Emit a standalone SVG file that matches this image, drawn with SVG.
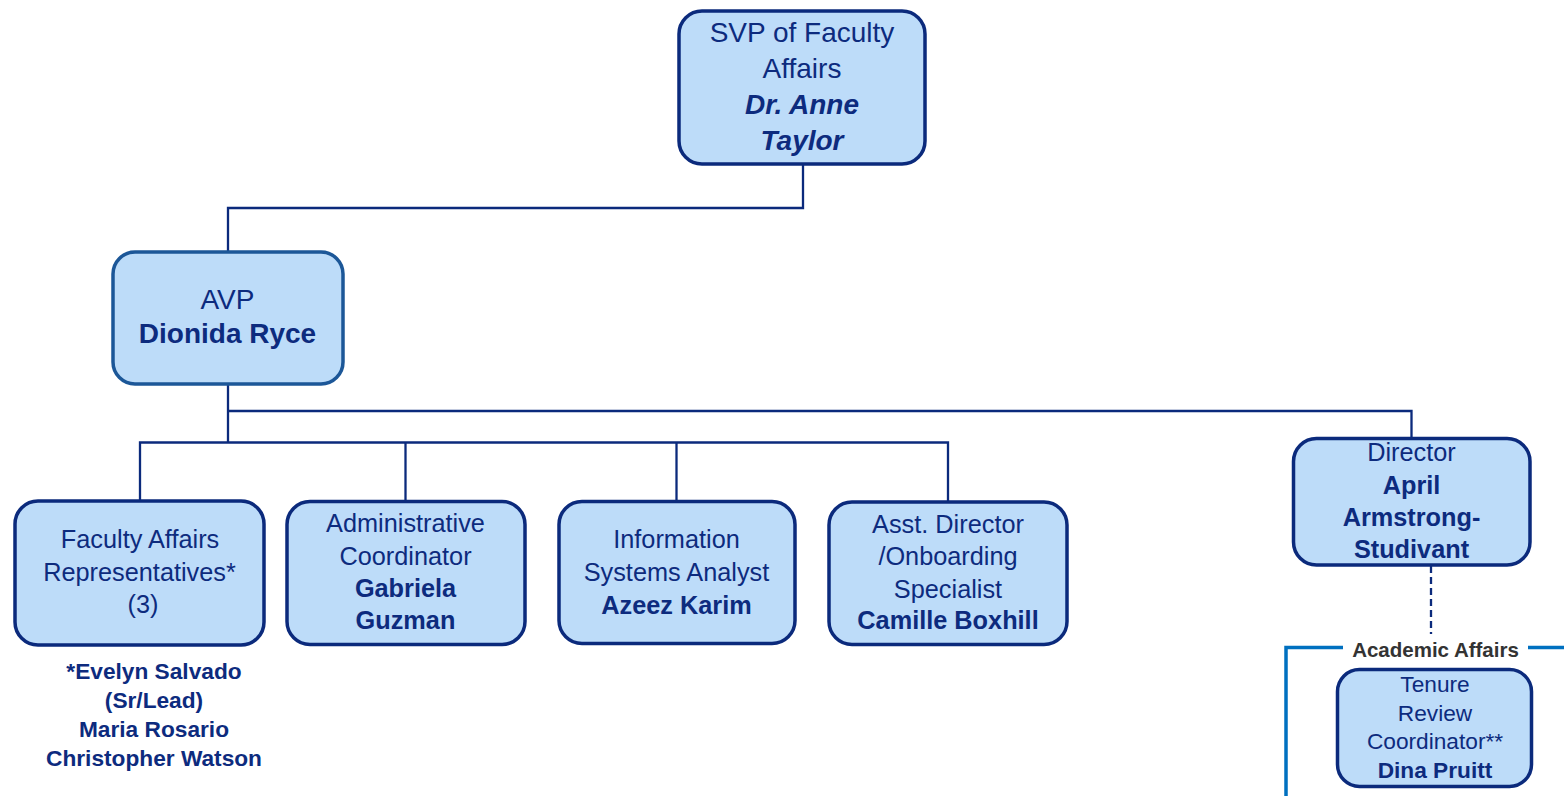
<svg xmlns="http://www.w3.org/2000/svg" width="1564" height="796" viewBox="0 0 1564 796">
<style>
.box{fill:#bddcf9;stroke:#0b2a7c;stroke-width:3.5}
.avp{fill:#bddcf9;stroke:#1c5798;stroke-width:3.5}
.ln{fill:none;stroke:#0b2a7c;stroke-width:2.3}
.dash{fill:none;stroke:#0b2a7c;stroke-width:2.3;stroke-dasharray:7 4}
.grp{fill:none;stroke:#0070c0;stroke-width:3.5}
text{font-family:"Liberation Sans",Arial,sans-serif;fill:#0d2b7e;text-anchor:middle}
.b{font-weight:bold}
.bi{font-weight:bold;font-style:italic}
.f28{font-size:28px}
.f25{font-size:25.3px}
.f23{font-size:22.7px}
.lbl{font-size:20.5px;font-weight:bold;fill:#333333}
</style>
<rect width="1564" height="796" fill="#ffffff"/>
<g id="connectors">
<path class="ln" d="M803,164 V208 H228 V252"/>
<path class="ln" d="M228,384 V442.5"/>
<path class="ln" d="M228,411 H1411.5 V438.5"/>
<path class="ln" d="M140,501 V442.5 H948 V501"/>
<path class="ln" d="M405.5,442.5 V501"/>
<path class="ln" d="M676.5,442.5 V501"/>
<path class="dash" d="M1431,566 V634"/>
</g>
<g id="academic-affairs-group">
<path class="grp" d="M1343,647.5 H1286 V796"/>
<path class="grp" d="M1528,647.5 H1564"/>
<text class="lbl" x="1435.5" y="657">Academic Affairs</text>
</g>
<g id="svp">
<rect class="box" x="679" y="11" width="246" height="153" rx="23"/>
<text class="f28" x="802" y="42">SVP of Faculty</text>
<text class="f28" x="802" y="78">Affairs</text>
<text class="f28 bi" x="802" y="114">Dr. Anne</text>
<text class="f28 bi" x="802" y="150">Taylor</text>
</g>
<g id="avp">
<rect class="avp" x="113" y="252" width="230" height="132" rx="22"/>
<text class="f28" x="227.5" y="309">AVP</text>
<text class="f28 b" x="227.5" y="343">Dionida Ryce</text>
</g>
<g id="faculty-reps">
<rect class="box" x="15" y="501" width="249" height="144" rx="23"/>
<text class="f25" x="140" y="547.5">Faculty Affairs</text>
<text class="f25" x="139.5" y="580.5">Representatives*</text>
<text class="f25" x="143" y="613">(3)</text>
</g>
<g id="faculty-reps-note">
<text class="f23 b" x="154" y="679">*Evelyn Salvado</text>
<text class="f23 b" x="154" y="708">(Sr/Lead)</text>
<text class="f23 b" x="154" y="737">Maria Rosario</text>
<text class="f23 b" x="154" y="766">Christopher Watson</text>
</g>
<g id="admin-coordinator">
<rect class="box" x="287" y="501.5" width="238" height="143" rx="23"/>
<text class="f25" x="405.5" y="532">Administrative</text>
<text class="f25" x="405.5" y="564.5">Coordinator</text>
<text class="f25 b" x="405.5" y="597">Gabriela</text>
<text class="f25 b" x="405.5" y="628.5">Guzman</text>
</g>
<g id="info-systems">
<rect class="box" x="559" y="501.5" width="236" height="142" rx="23"/>
<text class="f25" x="676.5" y="547.5">Information</text>
<text class="f25" x="676.5" y="580.5">Systems Analyst</text>
<text class="f25 b" x="676.5" y="613.5">Azeez Karim</text>
</g>
<g id="asst-director">
<rect class="box" x="829" y="502" width="238" height="142.5" rx="23"/>
<text class="f25" x="948" y="533">Asst. Director</text>
<text class="f25" x="948" y="565">/Onboarding</text>
<text class="f25" x="948" y="597.5">Specialist</text>
<text class="f25 b" x="948" y="628.5">Camille Boxhill</text>
</g>
<g id="director">
<rect class="box" x="1293.5" y="438.5" width="236.5" height="126.5" rx="23"/>
<text class="f25" x="1411.5" y="461">Director</text>
<text class="f25 b" x="1411.5" y="494">April</text>
<text class="f25 b" x="1411.5" y="526">Armstrong-</text>
<text class="f25 b" x="1411.5" y="558">Studivant</text>
</g>
<g id="tenure-review">
<rect class="box" x="1337.5" y="669.5" width="194" height="117" rx="22"/>
<text class="f23" x="1435" y="691.5">Tenure</text>
<text class="f23" x="1435" y="720.5">Review</text>
<text class="f23" x="1435" y="749">Coordinator**</text>
<text class="f23 b" x="1435" y="778">Dina Pruitt</text>
</g>
</svg>
